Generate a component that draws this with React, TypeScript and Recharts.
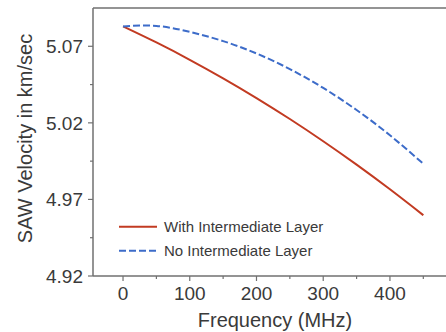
import { LineChart, Line, XAxis, YAxis, ReferenceLine } from 'recharts';

const FREQ = [0, 50, 100, 150, 200, 250, 300, 350, 400, 450];
const WITH_LAYER = [5.083, 5.0725, 5.0612, 5.0491, 5.0362, 5.0225, 5.008, 4.9927, 4.9766, 4.9597];
const NO_LAYER = [5.083, 5.0833, 5.0794, 5.0734, 5.0653, 5.0551, 5.0428, 5.0284, 5.0119, 4.9933];

const Y_MAJOR = [4.92, 4.97, 5.02, 5.07];
const Y_MINOR = [4.945, 4.995, 5.045];
const X_MAJOR = [0, 100, 200, 300, 400];
const X_MINOR = [50, 150, 250, 350, 450];

const SERIES = [
  { key: 'withLayer', name: 'With Intermediate Layer', color: '#c23b22', dash: undefined },
  { key: 'noLayer', name: 'No Intermediate Layer', color: '#3d6cc9', dash: '7 3' },
];

const data = FREQ.map((f, i) => ({ freq: f, withLayer: WITH_LAYER[i], noLayer: NO_LAYER[i] }));

const FONT = '"Liberation Sans", Arial, sans-serif';
const AXIS = '#707070';
const TEXT = '#3a3a3a';

const YTick = ({ x, y, payload }: any) => {
  const major = Y_MAJOR.includes(payload.value);
  return (
    <g>
      <line x1={x} x2={x - (major ? 5 : 3)} y1={y} y2={y} stroke={AXIS} strokeWidth={1.2} />
      {major && (
        <text x={x - 10} y={y} dy="0.36em" textAnchor="end" fontSize={19} fill={TEXT} fontFamily={FONT}>
          {payload.value.toFixed(2)}
        </text>
      )}
    </g>
  );
};

const XTick = ({ x, y, payload }: any) => {
  const major = X_MAJOR.includes(payload.value);
  return (
    <g>
      <line x1={x} x2={x} y1={y} y2={y + (major ? 5 : 3)} stroke={AXIS} strokeWidth={1.2} />
      {major && (
        <text x={x} y={y + 24} textAnchor="middle" fontSize={19} fill={TEXT} fontFamily={FONT}>
          {payload.value}
        </text>
      )}
    </g>
  );
};

export default function App() {
  return (
    <div style={{ position: 'absolute', left: 0, top: 0 }}>
      <LineChart width={446} height={332} data={data} margin={{ top: 8, right: 0, bottom: 0, left: 0 }}>
        <XAxis
          dataKey="freq"
          type="number"
          domain={[-45, 484]}
          ticks={[...X_MAJOR, ...X_MINOR].sort((a, b) => a - b)}
          tick={<XTick />}
          tickLine={false}
          tickSize={0}
          tickMargin={0}
          height={56}
          axisLine={{ stroke: AXIS, strokeWidth: 1.5 }}
          interval={0}
        />
        <YAxis
          type="number"
          domain={[4.92, 5.095]}
          ticks={[...Y_MAJOR, ...Y_MINOR].sort((a, b) => a - b)}
          tick={<YTick />}
          tickLine={false}
          tickSize={0}
          tickMargin={0}
          width={93}
          axisLine={{ stroke: AXIS, strokeWidth: 1.5 }}
          interval={0}
          allowDataOverflow
        />
        <ReferenceLine y={5.095} stroke={AXIS} strokeWidth={1.5} />
        {SERIES.map(s => (
          <Line
            key={s.key}
            type="natural"
            dataKey={s.key}
            name={s.name}
            stroke={s.color}
            strokeWidth={2}
            strokeDasharray={s.dash}
            dot={false}
            isAnimationActive={false}
          />
        ))}
        {SERIES.map((s, i) => (
          <g key={'leg' + s.key}>
            <line x1={119} x2={157} y1={226.7 + i * 24} y2={226.7 + i * 24} stroke={s.color} strokeWidth={2} strokeDasharray={s.dash} />
            <text x={164} y={232 + i * 24} fontSize={15} fill={TEXT} fontFamily={FONT}>{s.name}</text>
          </g>
        ))}
        <text x={275} y={327} textAnchor="middle" fontSize={20} fill={TEXT} fontFamily={FONT}>Frequency (MHz)</text>
        <text transform="translate(25,138.5) rotate(-90)" textAnchor="middle" dominantBaseline="central" fontSize={20} fill={TEXT} fontFamily={FONT}>
          SAW Velocity in km/sec
        </text>
      </LineChart>
    </div>
  );
}
